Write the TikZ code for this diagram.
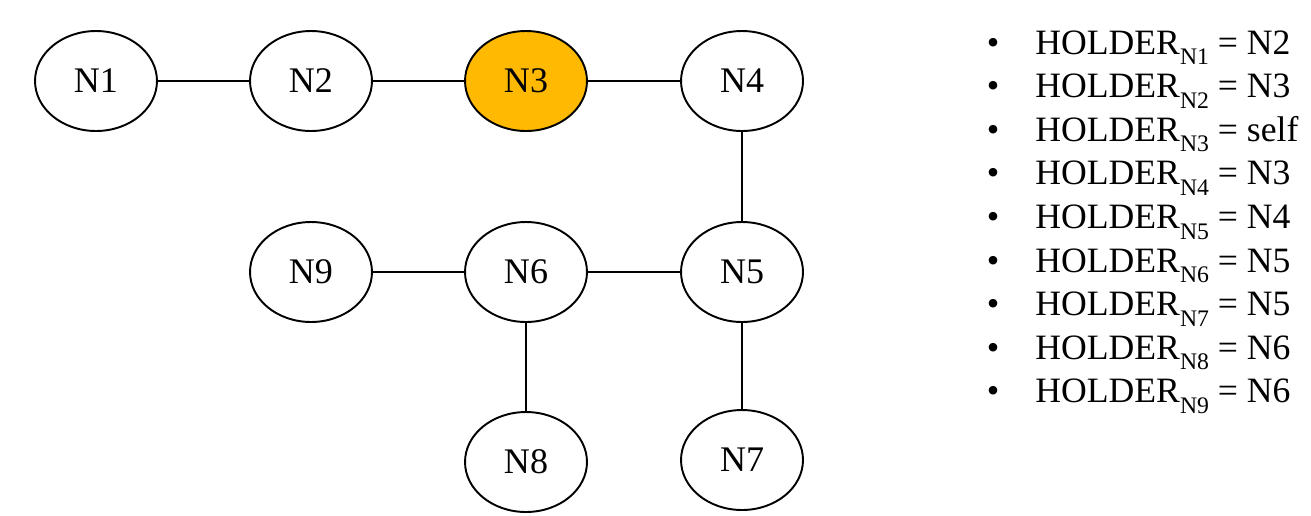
\documentclass[tikz,border=0pt]{standalone}
\usepackage{fontspec}
\setmainfont{Liberation Serif}
\usetikzlibrary{shapes.geometric}
\definecolor{tokencol}{RGB}{255,185,0}
\newcommand\hsub[1]{\raisebox{-0.3em}{\fontsize{13.5pt}{13.5pt}\selectfont #1}}
\tikzset{
  peer/.style={ellipse, draw=black, line width=1.1pt, fill=white, minimum width=2.44cm, minimum height=2.0cm, inner sep=0pt, font=\fontsize{20.5pt}{20.5pt}\selectfont},
  holder/.style={fill=tokencol},
  link/.style={line width=1.1pt},
  item/.style={anchor=base west, inner sep=0pt, font=\fontsize{20.3pt}{20.3pt}\selectfont},
  dot/.style={anchor=base, inner sep=0pt, font=\fontsize{20.3pt}{20.3pt}\selectfont}
}
\begin{document}
\begin{tikzpicture}[x=0.02cm, y=-0.02cm]
\useasboundingbox (0,0) rectangle (1311,515);
\node[peer] (n1) at (96,81) {N1};
\node[peer] (n2) at (311,81) {N2};
\node[peer, holder] (n3) at (526,81) {N3};
\node[peer] (n4) at (742,81) {N4};
\node[peer] (n9) at (311,272) {N9};
\node[peer] (n6) at (526,272) {N6};
\node[peer] (n5) at (742,272) {N5};
\node[peer] (n8) at (526,462) {N8};
\node[peer] (n7) at (742,460) {N7};
\draw[link] (n1) -- (n2);
\draw[link] (n2) -- (n3);
\draw[link] (n3) -- (n4);
\draw[link] (n4) -- (n5);
\draw[link] (n9) -- (n6);
\draw[link] (n6) -- (n5);
\draw[link] (n6) -- (n8);
\draw[link] (n5) -- (n7);
\foreach \i/\who [count=\k from 0] in {1/N2,2/N3,3/self,4/N3,5/N4,6/N5,7/N5,8/N6,9/N6} {
  \node[dot] (b\i) at (993,{54+\k*43.6}) {•};
  \node[item] (h\i) at (1035,{54+\k*43.6}) {HOLDER\hsub{N\i} = \who};
}
\end{tikzpicture}
\end{document}
